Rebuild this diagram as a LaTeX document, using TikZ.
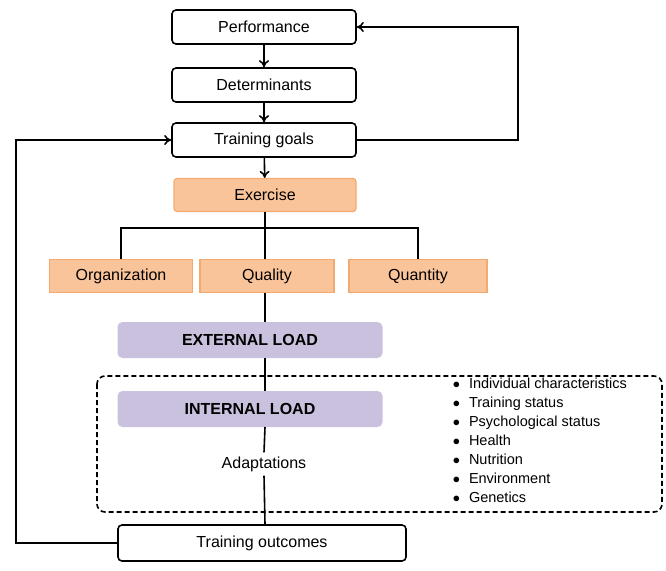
\documentclass[tikz,border=0pt]{standalone}
\usepackage{fontspec}
\setmainfont{Liberation Sans}
\usetikzlibrary{arrows.meta}
\definecolor{exfill}{RGB}{250,196,154}
\definecolor{exline}{RGB}{244,170,110}
\definecolor{loadfill}{RGB}{202,193,222}
\begin{document}
\begin{tikzpicture}[x=1pt,y=-1pt,line width=1.6pt,
    font=\fontsize{16}{18}\selectfont,
    main box/.style={draw,rounded corners=4pt,minimum width=184pt,minimum height=34pt},
    ex box/.style={draw=exline,fill=exfill,line width=1.2pt,minimum height=33pt},
    load box/.style={fill=loadfill,rounded corners=5pt,minimum width=265pt,minimum height=36pt,font=\fontsize{16}{18}\selectfont\bfseries},
    arr/.style={-{To[length=7pt,width=10pt]}}]

    \useasboundingbox (0,0) rectangle (666,570);

    % Define boxes
    \node[main box] (perf) at (264,27) {Performance};
    \node[main box] (det) at (264,85) {Determinants};
    \node[main box] (goals) at (264,140) {Training goals};
    \node[ex box,rounded corners=3pt,minimum width=182pt] (ex) at (265,195) {Exercise};
    \node[ex box,minimum width=143pt] (org) at (121,276) {Organization};
    \node[ex box,minimum width=134pt] (qual) at (267,276) {Quality};
    \node[ex box,minimum width=138pt] (quan) at (418,276) {Quantity};
    \node[load box] (ext) at (250,340) {EXTERNAL LOAD};
    \node[load box] (int) at (250,409) {INTERNAL LOAD};
    \node (adapt) at (264,464) {Adaptations};
    \node[main box,minimum width=288pt,minimum height=36pt] (out) at (262,543) {Training outcomes};
    \draw[dash pattern=on 5pt off 3pt,rounded corners=8pt] (97,376) rectangle (662,512);
    \node[anchor=north west,align=left,inner sep=0pt,
          font=\fontsize{14.5}{19}\selectfont] (list) at (452,377) {%
        $\bullet$\hspace{9pt}Individual characteristics\\
        $\bullet$\hspace{9pt}Training status\\
        $\bullet$\hspace{9pt}Psychological status\\
        $\bullet$\hspace{9pt}Health\\
        $\bullet$\hspace{9pt}Nutrition\\
        $\bullet$\hspace{9pt}Environment\\
        $\bullet$\hspace{9pt}Genetics};

    % Draw edges
    \draw[arr] (perf) -- (det);
    \draw[arr] (det) -- (goals);
    \draw[arr] (goals) -- (ex);
    \draw (ex.south) -- (ex.south |- org.north);
    \draw (org.north) |- (265,228) -| (quan.north);
    \draw (265,293) -- (265,322);
    \draw (265,358) -- (265,391);
    \draw (265,427) -- (adapt.north);
    \draw (adapt.south) -- (out.north -| 265,0);
    \draw[arr] (goals.east) -| (518,27) -- (perf.east);
    \draw[arr] (out.west) -| (16,140) -- (goals.west);
\end{tikzpicture}
\end{document}
